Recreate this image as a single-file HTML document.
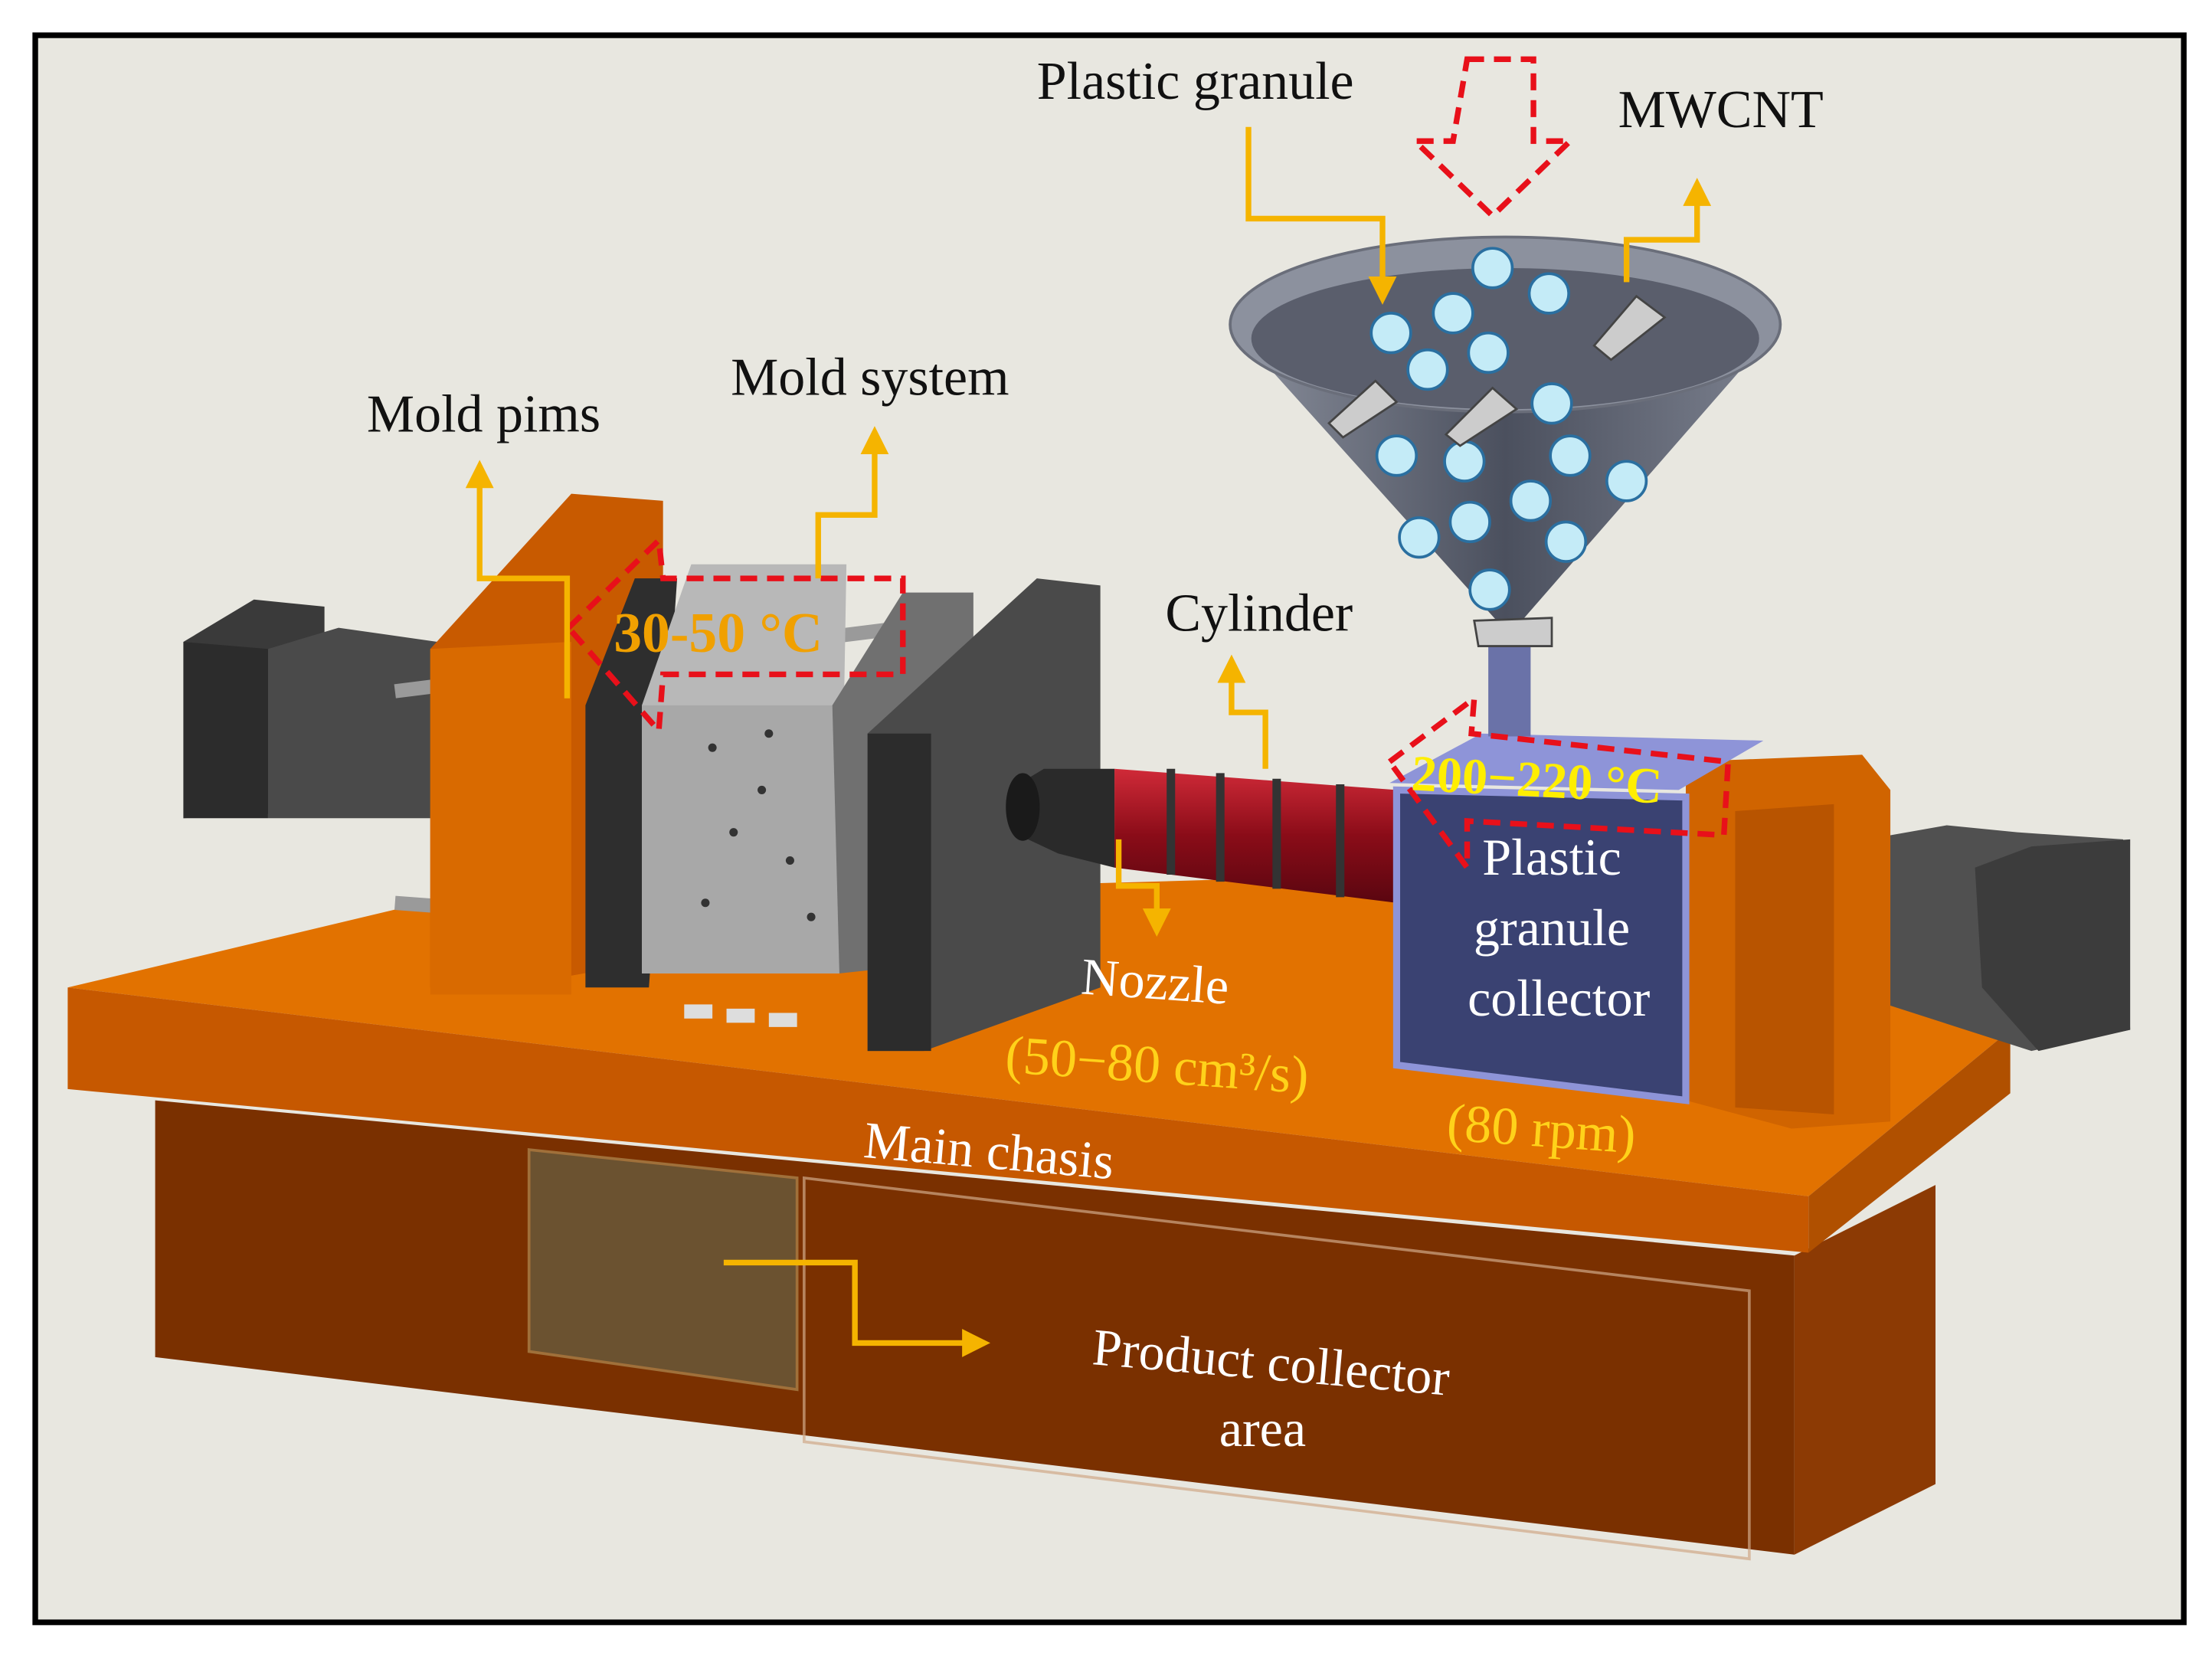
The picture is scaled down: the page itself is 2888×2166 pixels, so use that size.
<!DOCTYPE html>
<html><head><meta charset="utf-8">
<style>
html,body{margin:0;padding:0;background:#fff;}
svg{display:block;}
text{font-family:"Liberation Serif",serif;}
</style></head>
<body>
<svg width="2888" height="2166" viewBox="0 0 1568 1176" xmlns="http://www.w3.org/2000/svg">
<defs>
<linearGradient id="fun" x1="0" y1="0" x2="1" y2="0">
<stop offset="0" stop-color="#8a8f9c"/><stop offset="0.5" stop-color="#4b505e"/><stop offset="1" stop-color="#7d8290"/>
</linearGradient>
<linearGradient id="red" x1="0" y1="0" x2="0" y2="1">
<stop offset="0" stop-color="#d02a38"/><stop offset="0.5" stop-color="#8a0c18"/><stop offset="1" stop-color="#5a0610"/>
</linearGradient>
<marker id="ah" viewBox="0 0 10 10" refX="8" refY="5" markerWidth="5" markerHeight="5" orient="auto"><path d="M0,0L10,5L0,10z" fill="#f5b400"/></marker>
</defs>
<rect width="1568" height="1176" fill="#fff"/>
<rect x="25" y="25" width="1523" height="1125" fill="#e8e7e0" stroke="#000" stroke-width="4"/>

<polygon points="110,780 1272,890 1272,1102 110,962" fill="#7a3000"/>
<polygon points="1272,890 1372,840 1372,1052 1272,1102" fill="#8c3a04"/>
<polygon points="375,815 565,835 565,985 375,958" fill="#6b5230" stroke="#a0703a" stroke-width="2"/>
<polygon points="570,835 1240,915 1240,1105 570,1022" fill="none" stroke="#d0a888" stroke-opacity="0.7" stroke-width="2"/>
<polygon points="48,700 300,640 1330,610 1425,730 1282,848" fill="#e27200"/>
<polygon points="48,700 1282,848 1282,888 48,772" fill="#c65800"/>
<polygon points="1282,848 1425,730 1425,775 1282,888" fill="#b05000"/>

<polygon points="130,455 180,425 230,430 230,575 130,580" fill="#3a3a3a"/>
<polygon points="190,460 240,445 310,455 310,580 190,580" fill="#4a4a4a"/>
<polygon points="130,455 190,460 190,580 130,580" fill="#2c2c2c"/>
<polygon points="1295,600 1380,585 1430,590 1505,595 1510,730 1440,745 1300,700" fill="#505050"/>
<polygon points="1400,615 1440,600 1510,595 1510,730 1445,745 1405,700" fill="#3c3c3c"/>

<g stroke="#9a9a9a" stroke-width="10">
<line x1="280" y1="490" x2="680" y2="440"/>
<line x1="280" y1="640" x2="680" y2="670"/>
<line x1="360" y1="492" x2="620" y2="500"/>
</g>

<polygon points="305,460 405,350 470,355 470,680 330,705 305,700" fill="#c85a00"/>
<polygon points="305,460 405,455 405,705 305,705" fill="#d96a00"/>
<polygon points="415,500 450,410 480,410 460,700 415,700" fill="#2e2e2e"/>
<polygon points="455,500 490,400 600,400 595,690 455,690" fill="#b8b8b8"/>
<polygon points="455,500 590,500 595,690 455,690" fill="#a8a8a8"/>
<polygon points="590,500 640,420 690,420 690,680 595,690" fill="#707070"/>
<polygon points="615,520 735,410 780,415 780,700 655,745 615,745" fill="#4a4a4a"/>
<polygon points="615,520 660,520 660,745 615,745" fill="#2c2c2c"/>
<g fill="#333">
<circle cx="505" cy="530" r="3"/><circle cx="540" cy="560" r="3"/><circle cx="520" cy="590" r="3"/><circle cx="560" cy="610" r="3"/><circle cx="500" cy="640" r="3"/><circle cx="545" cy="520" r="3"/><circle cx="575" cy="650" r="3"/>
</g>
<g fill="#ddd"><rect x="485" y="712" width="20" height="10"/><rect x="515" y="715" width="20" height="10"/><rect x="545" y="718" width="20" height="10"/></g>

<polygon points="790,545 990,560 990,640 790,615" fill="url(#red)"/>
<g stroke="#333" stroke-width="6"><line x1="830" y1="545" x2="830" y2="620"/><line x1="865" y1="548" x2="865" y2="625"/><line x1="905" y1="552" x2="905" y2="630"/><line x1="950" y1="556" x2="950" y2="636"/></g>
<polygon points="715,560 740,545 790,545 790,615 750,605 718,590" fill="#2a2a2a"/>
<ellipse cx="725" cy="572" rx="12" ry="24" fill="#1a1a1a"/>

<polygon points="1195,540 1320,535 1340,560 1340,795 1270,800 1195,780" fill="#d06400"/>
<polygon points="1230,575 1300,570 1300,790 1230,785" fill="#b85400"/>
<polygon points="985,555 1190,560 1250,525 1050,520" fill="#8e94d8"/>
<polygon points="990,560 1195,565 1195,780 990,755" fill="#3a4272" stroke="#8e94d8" stroke-width="5"/>

<polygon points="872,230 1262,230 1070,450" fill="url(#fun)"/>
<ellipse cx="1067" cy="230" rx="195" ry="62" fill="#8c919e" stroke="#6a6e7a" stroke-width="2"/>
<ellipse cx="1067" cy="240" rx="180" ry="50" fill="#5a5e6c"/>
<rect x="1055" y="450" width="30" height="72" fill="#6a72a8"/>
<g fill="#c4ebf7" stroke="#2a6fa0" stroke-width="2">
<circle cx="1058" cy="190" r="14"/><circle cx="1098" cy="208" r="14"/><circle cx="1030" cy="222" r="14"/><circle cx="986" cy="236" r="14"/><circle cx="1055" cy="250" r="14"/><circle cx="1012" cy="262" r="14"/><circle cx="1100" cy="286" r="14"/><circle cx="990" cy="323" r="14"/><circle cx="1038" cy="327" r="14"/><circle cx="1113" cy="323" r="14"/><circle cx="1153" cy="341" r="14"/><circle cx="1085" cy="355" r="14"/><circle cx="1042" cy="370" r="14"/><circle cx="1006" cy="381" r="14"/><circle cx="1110" cy="384" r="14"/><circle cx="1056" cy="418" r="14"/>
</g>
<g fill="#ccc" stroke="#444" stroke-width="1.5">
<polygon points="1130,245 1160,210 1180,225 1142,255"/>
<polygon points="942,300 975,270 990,285 952,310"/>
<polygon points="1025,308 1058,275 1075,290 1035,316"/>
<polygon points="1045,440 1100,438 1100,458 1048,458"/>
</g>

<g fill="none" stroke="#e8101a" stroke-width="4" stroke-dasharray="12,7">
<polygon points="1040,42 1087,42 1087,100 1113,100 1058,153 1003,100 1030,100"/>
<polygon points="403,445 467,383 470,410 640,410 640,478 470,478 467,518"/>
<polygon points="985,540 1045,495 1043,520 1225,540 1222,592 1040,582 1040,615"/>
</g>

<g fill="none" stroke="#f5b400" stroke-width="4" marker-end="url(#ah)">
<polyline points="885,90 885,155 980,155 980,212"/>
<polyline points="1153,200 1153,170 1203,170 1203,130"/>
<polyline points="580,410 580,365 620,365 620,306"/>
<polyline points="402,495 402,410 340,410 340,330"/>
<polyline points="897,545 897,505 873,505 873,468"/>
<polyline points="793,595 793,628 820,628 820,660"/>
<polyline points="513,895 606,895 606,952 698,952"/>
</g>

<g font-size="38" fill="#111">
<text x="735" y="70">Plastic granule</text>
<text x="1147" y="90">MWCNT</text>
<text x="518" y="280">Mold system</text>
<text x="260" y="306">Mold pims</text>
<text x="826" y="447">Cylinder</text>
</g>
<text x="435" y="462" font-size="40" font-weight="bold" fill="#f0a000">30-50 °C</text>
<text x="1000" y="560" font-size="36" font-weight="bold" fill="#ffee00" transform="rotate(3 1000 560)">200−220 °C</text>
<g font-size="37" fill="#fff" text-anchor="middle">
<text x="1100" y="620">Plastic</text>
<text x="1100" y="670">granule</text>
<text x="1105" y="720">collector</text>
<text x="818" y="708" transform="rotate(4 818 708)">Nozzle</text>
<text x="700" y="828" transform="rotate(5 700 828)">Main chasis</text>
<text x="900" y="978" transform="rotate(5 900 978)">Product collector</text>
<text x="895" y="1025">area</text>
</g>
<text x="712" y="760" font-size="38" fill="#ffd21a" transform="rotate(4 712 760)">(50−80 cm³/s)</text>
<text x="1025" y="808" font-size="38" fill="#ffd21a" transform="rotate(4 1025 808)">(80 rpm)</text>
</svg>
</body></html>
